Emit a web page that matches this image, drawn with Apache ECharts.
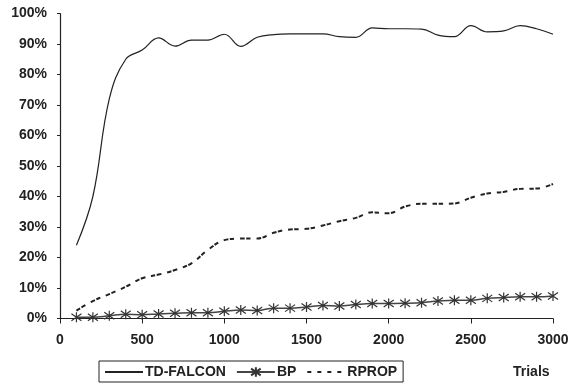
<!DOCTYPE html>
<html>
<head>
<meta charset="utf-8">
<script src="https://cdn.jsdelivr.net/npm/echarts@6/dist/echarts.min.js"></script>
<style>
  html, body { margin: 0; padding: 0; background: #fff; }
  #chart { width: 574px; height: 392px; }
</style>
</head>
<body>
<div id="chart"></div>
<script>
// trials (x values)
var trials = [100, 200, 300, 400, 500, 600, 700, 800, 900, 1000,
  1100, 1200, 1300, 1400, 1500, 1600, 1700, 1800, 1900, 2000,
  2100, 2200, 2300, 2400, 2500, 2600, 2700, 2800, 2900, 3000]

// success rate (%)
var tdFalcon = [24, 40, 72, 85, 88, 92, 89.3, 91.3, 91.3, 93.2,
  89.2, 92.2, 93.1, 93.3, 93.3, 93.3, 92.4, 92.2, 95.3, 95,
  95, 94.9, 92.9, 92.4, 96, 94, 94.3, 96, 95, 93.2]
var bp = [0.4, 0.4, 0.9, 1.4, 1.2, 1.5, 1.7, 1.9, 1.9, 2.4,
  2.8, 2.6, 3.4, 3.4, 3.8, 4.3, 4.1, 4.6, 4.9, 4.9,
  5.0, 5.2, 5.7, 6.0, 6.0, 6.6, 6.9, 7.1, 7.1, 7.4]
var rprop = [2.6, 5.7, 8.0, 10.4, 13.2, 14.4, 15.9, 18.1, 22.5, 25.7,
  26.2, 26.2, 28.1, 29.2, 29.4, 30.5, 31.9, 33, 34.8, 34.5,
  36.7, 37.6, 37.6, 37.7, 39.6, 41, 41.5, 42.5, 42.6, 44.1]

var xTicks = [0, 500, 1000, 1500, 2000, 2500, 3000]
var yTicks = [0, 10, 20, 30, 40, 50, 60, 70, 80, 90, 100]

function pairs(arr) {
  return arr.map(function (v, i) { return [trials[i], v] })
}

var chart = echarts.init(document.getElementById('chart'))
var font = 'Liberation Sans, Arial, sans-serif'
var asterisk = 'path://M5,0L5,10M1,1.5L9,8.5M1,8.5L9,1.5'
var noMark = { color: 'transparent', borderWidth: 0 }

chart.setOption({
  animation: false,
  textStyle: { fontFamily: font },
  grid: { left: 60, right: 21, top: 13.5, bottom: 73.5 },
  legend: {
    left: 99,
    top: 361,
    itemWidth: 38,
    itemHeight: 12,
    itemGap: 10,
    padding: [4, 6, 3, 5],
    borderColor: '#222',
    borderWidth: 1,
    borderRadius: 0,
    textStyle: { fontFamily: font, fontWeight: 'bold', fontSize: 14, color: '#222', padding: [0, 0, 0, -3] },
    data: [
      { name: 'TD-FALCON', itemStyle: noMark },
      'BP',
      { name: 'RPROP', itemStyle: noMark, lineStyle: { type: [4, 6], width: 2 } }
    ]
  },
  xAxis: {
    type: 'value',
    min: xTicks[0],
    max: xTicks[xTicks.length - 1],
    interval: 500,
    axisLine: { lineStyle: { color: '#222', width: 1.2 } },
    axisTick: { show: true, length: 5, lineStyle: { color: '#222' } },
    axisLabel: {
      color: '#222', fontWeight: 'bold', fontSize: 14, margin: 15,
      formatter: function (v) { return String(v) }
    },
    splitLine: { show: false }
  },
  yAxis: {
    type: 'value',
    min: yTicks[0],
    max: yTicks[yTicks.length - 1],
    interval: 10,
    axisLine: { show: true, lineStyle: { color: '#222', width: 1.2 } },
    axisTick: { show: true, length: 3, lineStyle: { color: '#222' } },
    axisLabel: { color: '#222', fontWeight: 'bold', fontSize: 14, margin: 13, formatter: '{value}%' },
    splitLine: { show: false }
  },
  graphic: [{
    type: 'text',
    left: 513,
    top: 365,
    style: { text: 'Trials', fill: '#222', font: 'bold 14px ' + font }
  }],
  series: [
    {
      name: 'TD-FALCON',
      type: 'line',
      smooth: 0.4,
      symbol: 'none',
      lineStyle: { color: '#222', width: 1.2 },
      itemStyle: { color: '#222' },
      data: pairs(tdFalcon)
    },
    {
      name: 'BP',
      type: 'line',
      smooth: 0.4,
      symbol: asterisk,
      symbolSize: 10,
      lineStyle: { color: '#444', width: 1.5 },
      itemStyle: { color: 'transparent', borderColor: '#333', borderWidth: 1.2 },
      data: pairs(bp)
    },
    {
      name: 'RPROP',
      type: 'line',
      smooth: 0.4,
      symbol: 'none',
      lineStyle: { color: '#222', width: 2, type: [4.5, 1.5, 4.5, 6] },
      itemStyle: { color: '#222' },
      data: pairs(rprop)
    }
  ]
})
</script>
</body>
</html>
